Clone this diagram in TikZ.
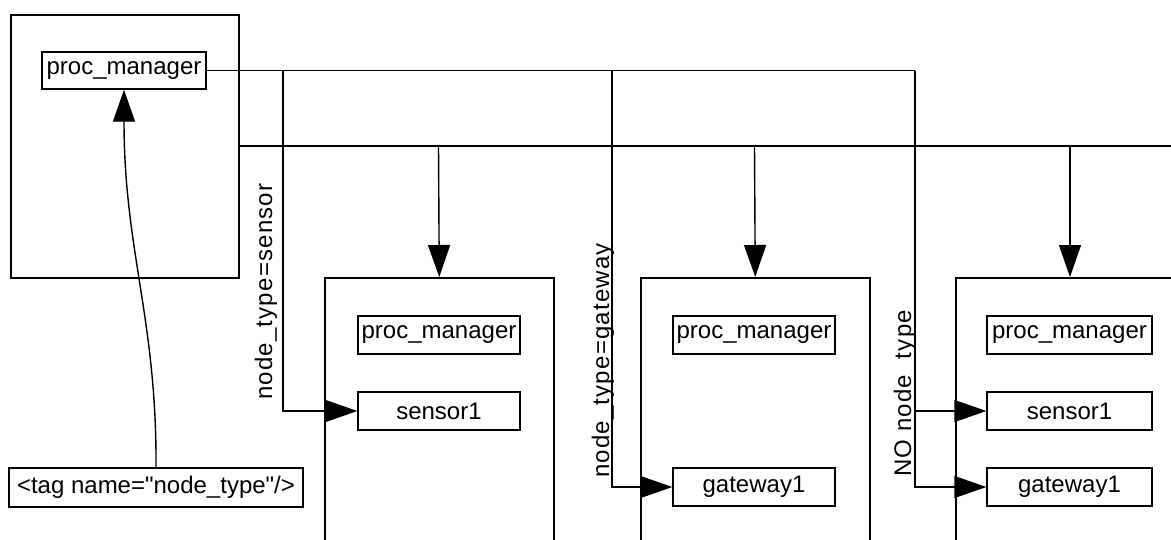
\documentclass[tikz,border=0pt]{standalone}
\usepackage{fontspec}
\setmainfont{Liberation Sans}[Ligatures=TeXOff]
\newfontfamily\spacedfont[LetterSpace=5,Ligatures=TeXOff]{Liberation Sans}
\usetikzlibrary{arrows.meta}
\newcommand\diagfont{\fontsize{24}{28}\selectfont}
\begin{document}
\begin{tikzpicture}[x=1pt,y=-1pt,
  frame/.style={draw, line width=1.5pt, rectangle, inner sep=0pt, anchor=north west},
  box/.style={draw, line width=1.4pt, rectangle, inner sep=0pt, minimum width=162pt,
              minimum height=38pt, font=\diagfont},
  lbl/.style={rotate=90, anchor=base west, inner sep=0pt, font=\spacedfont\diagfont},
  wire/.style={line width=1.4pt},
  arrowed/.style={-{Triangle[length=32pt,width=22pt]}}]
\useasboundingbox (0,0) rectangle (1171,539);
\fill[white] (0,0) rectangle (1171,539);
\clip (0,0) rectangle (1171,539);

% host holding the manager
\node[frame, minimum width=228pt, minimum height=263pt] (host) at (10,14) {};
\node[box, minimum width=164pt, minimum height=37pt] (pm0) at (124,70.5) {proc\_manager};
\node[box, minimum width=294pt, minimum height=39pt] (tag) at (156,487.5)
  {<tag name="node\_type"/>};

% managed nodes (open at the bottom / right edge)
\node[frame, minimum width=229pt, minimum height=330pt] (c1) at (324,277) {};
\node[frame, minimum width=229pt, minimum height=330pt] (c2) at (640,277) {};
\node[frame, minimum width=260pt, minimum height=330pt] (c3) at (955,277) {};

\node[box] (pm1) at (439,335) {proc\_manager};
\node[box] (s1)  at (439,411) {sensor1};
\node[box] (pm2) at (754,335) {proc\_manager};
\node[box] (g2)  at (754,487) {gateway1};
\node[box, minimum width=165pt] (pm3) at (1069.5,335) {proc\_manager};
\node[box, minimum width=165pt] (s3)  at (1069.5,411) {sensor1};
\node[box, minimum width=165pt] (g3)  at (1069.5,487) {gateway1};

% tag lookup
\draw[wire, arrowed] (tag.north) .. controls (157,320) and (124,250) .. (pm0.south);

% dispatch bus from the manager
\coordinate (j1) at (283,70.5);
\coordinate (j2) at (612,70.5);
\coordinate (j3) at (915,70.5);
\draw[wire] (pm0.east) -- (j3);
\draw[wire, arrowed] (j1) |- (s1.west);
\draw[wire, arrowed] (j2) |- (g2.west);
\draw[wire, arrowed] (j3) |- (s3.west);
\draw[wire, arrowed] (j3) |- (g3.west);

% deployment bus from the host
\coordinate (h0) at (238,146);
\coordinate (hend) at (1171,146);
\coordinate (h1) at (438.5,146);
\coordinate (h2) at (754.5,146);
\coordinate (h3) at (1070,146);
\draw[wire] (h0) -- (hend);
\draw[wire, arrowed] (h1) -- (c1.north);
\draw[wire, arrowed] (h2) -- (c2.north);
\draw[wire, arrowed] (h3) -- (h3 |- c3.north);

% filter labels
\node[lbl] (l1) at (272,400) {node\_type=sensor};
\node[lbl] (l2) at (609,478) {node\_type=gateway};
\node[lbl] (l3) at (911,477) {NO node\_type};
\end{tikzpicture}
\end{document}
